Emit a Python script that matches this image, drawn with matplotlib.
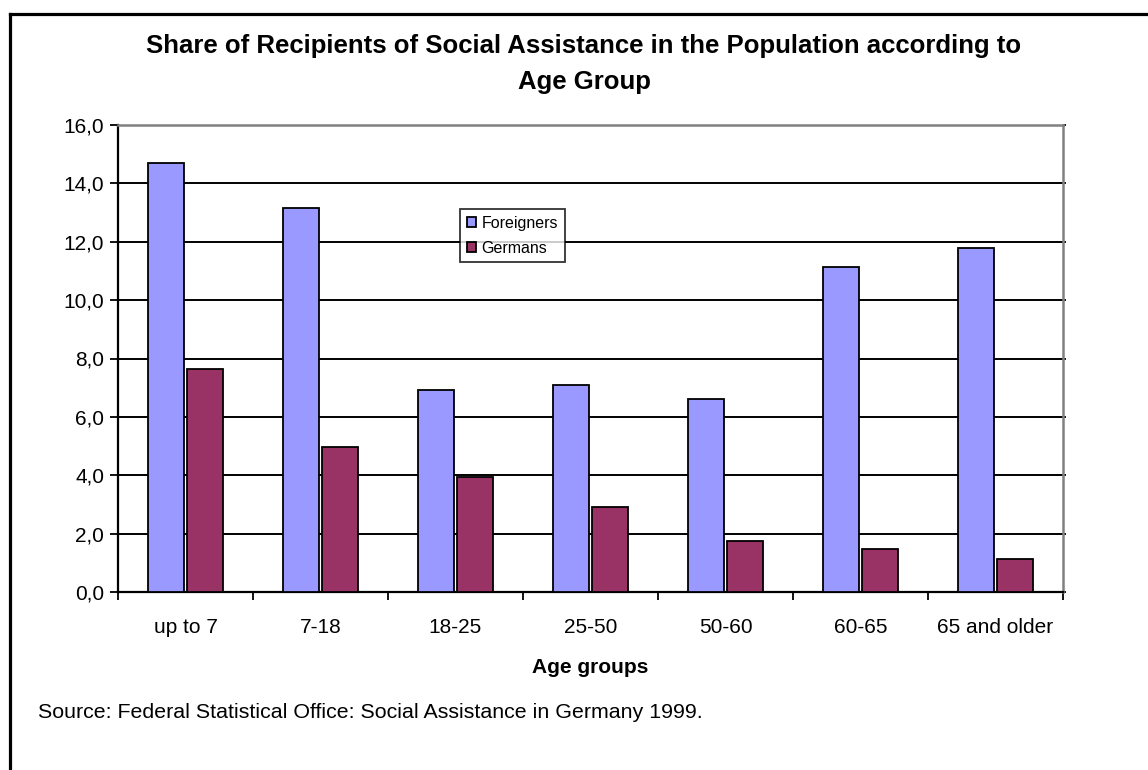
import matplotlib
matplotlib.use("Agg")
import matplotlib.pyplot as plt
from matplotlib.lines import Line2D
import numpy as np

plt.rcParams['font.family'] = ['Liberation Sans', 'DejaVu Sans']

categories = ["up to 7", "7-18", "18-25", "25-50", "50-60", "60-65", "65 and older"]
foreigners = [14.7, 13.15, 6.93, 7.09, 6.6, 11.13, 11.8]
germans = [7.64, 4.97, 3.93, 2.91, 1.74, 1.46, 1.12]
yticks = [0, 2, 4, 6, 8, 10, 12, 14, 16]
ytick_labels = ["0,0", "2,0", "4,0", "6,0", "8,0", "10,0", "12,0", "14,0", "16,0"]

W, H = 1148, 770
fig = plt.figure(figsize=(W / 100, H / 100), dpi=100)
ax = fig.add_axes([118 / W, 1 - 592 / H, (1063 - 118) / W, (592 - 125) / H])

x = np.arange(len(categories))
bw = 0.27
off = 0.145
ax.bar(x - off, foreigners, bw, color="#9999FF", edgecolor="black", linewidth=1.3,
       label="Foreigners", zorder=3)
ax.bar(x + off, germans, bw, color="#993366", edgecolor="black", linewidth=1.3,
       label="Germans", zorder=3)

ax.set_xlim(-0.5, len(categories) - 0.5)
ax.set_ylim(0, 16)

# gridlines
for yv in yticks[1:-1]:
    ax.axhline(yv, color="black", linewidth=1.4, zorder=1)

ax.set_yticks(yticks)
ax.set_yticklabels(ytick_labels, fontsize=15)
ax.tick_params(axis="y", direction="out", length=6, width=1.3, pad=4,
               right=True, which="major")
for t in ax.yaxis.get_ticklines()[1::2]:
    t.set_markersize(2)

ax.set_xticks(x)
ax.set_xticklabels(categories, fontsize=15)
ax.tick_params(axis="x", which="major", length=0, pad=19)
ax.set_xticks(np.arange(-0.5, len(categories)), minor=True)
ax.tick_params(axis="x", which="minor", direction="out", length=6, width=1.3)

ax.spines["left"].set_linewidth(1.6)
ax.spines["left"].set_color("black")
ax.spines["bottom"].set_linewidth(1.6)
ax.spines["bottom"].set_color("black")
ax.spines["top"].set_color("#808080")
ax.spines["top"].set_linewidth(1.8)
ax.spines["right"].set_color("#808080")
ax.spines["right"].set_linewidth(1.8)

ax.set_xlabel("Age groups", fontsize=15, fontweight="bold", labelpad=15)

leg = ax.legend(loc="upper left", bbox_to_anchor=((460 - 118) / (1063 - 118), 1 - (209 - 125) / (592 - 125)),
                fontsize=11.5, frameon=True, fancybox=False, shadow=False,
                handlelength=0.57, handleheight=0.57, handletextpad=0.37,
                borderpad=0.42, labelspacing=0.62, borderaxespad=0)
leg.get_frame().set_edgecolor("black")
leg.get_frame().set_linewidth(1.3)
leg.set_zorder(5)

fig.text(584 / W, 1 - 46 / H, "Share of Recipients of Social Assistance in the Population according to",
         ha="center", va="center", fontsize=18.5, fontweight="bold")
fig.text(584 / W, 1 - 82 / H, "Age Group",
         ha="center", va="center", fontsize=18.5, fontweight="bold")

fig.text(38 / W, 1 - 712 / H, "Source: Federal Statistical Office: Social Assistance in Germany 1999.",
         ha="left", va="center", fontsize=15.4)

# outer border (top and left visible)
fig.add_artist(Line2D([9.5 / W, 1.0], [1 - 13.5 / H, 1 - 13.5 / H], color="black",
                      linewidth=2.3, transform=fig.transFigure))
fig.add_artist(Line2D([9.5 / W, 9.5 / W], [0, 1 - 13.5 / H], color="black",
                      linewidth=2.3, transform=fig.transFigure))

fig.savefig("out.png", dpi=100)
